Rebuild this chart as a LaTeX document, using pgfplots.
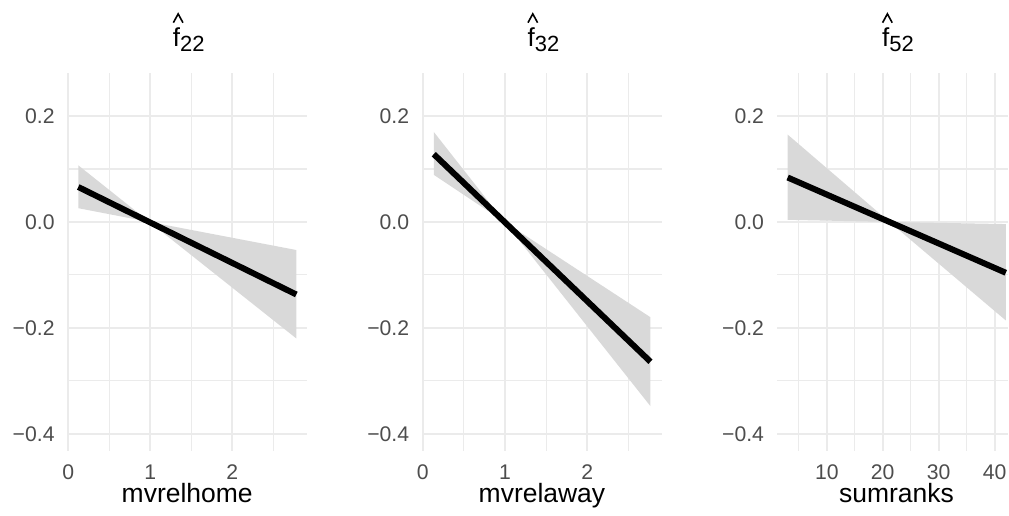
\documentclass[border=0pt]{standalone}
\usepackage{fontspec}
\setmainfont{Liberation Sans}
\usepackage{pgfplots}
\pgfplotsset{compat=1.18}
\definecolor{gridc}{HTML}{EBEBEB}
\definecolor{tickc}{HTML}{4D4D4D}
\definecolor{ribbon}{HTML}{D9D9D9}
\newcommand\titlef[1]{\fontsize{13}{15}\selectfont f\raisebox{-2.5pt}{\fontsize{11}{13}\selectfont #1}}
\pgfplotsset{
  panel/.style={
    scale only axis, height=189.5pt, anchor=south west,
    ymin=-0.433, ymax=0.282,
    ytick={-0.4,-0.2,0,0.2}, yticklabels={−0.4,−0.2,0.0,0.2},
    minor ytick={-0.3,-0.1,0.1},
    grid=both,
    major grid style={gridc, line width=1.1pt},
    minor grid style={gridc, line width=0.55pt},
    axis line style={draw=none},
    tick style={draw=none},
    tick label style={font=\fontsize{10.6}{12}\selectfont, text=tickc},
    yticklabel style={anchor=east, inner sep=0pt, xshift=-6.25pt},
    xticklabel style={anchor=base, inner sep=0pt, yshift=-14.15pt},
    label style={font=\fontsize{13.25}{15}\selectfont},
    xlabel style={at={(axis description cs:0.5,0)}, anchor=base, yshift=-25.65pt, inner sep=0pt},
  }
}
\begin{document}
\begin{tikzpicture}
\path (0,0) rectangle (504.5pt,258pt);
% panel 1
\begin{axis}[panel, at={(33.75pt,32.15pt)}, width=119.9pt,
  xmin=-0.01, xmax=2.91, xtick={0,1,2}, xticklabels={0,1,2}, minor xtick={0.5,1.5,2.5},
  xlabel={mvrelhome}]
\addplot[fill=ribbon, draw=none] coordinates {(0.122,0.107) (0.99,0) (2.78,-0.053) (2.78,-0.220) (0.99,0) (0.122,0.026)} -- cycle;
\addplot[black, line width=3pt] coordinates {(0.122,0.066) (2.78,-0.137)};
\end{axis}
% panel 2
\begin{axis}[panel, at={(211.2pt,32.15pt)}, width=120.15pt,
  xmin=-0.01, xmax=2.91, xtick={0,1,2}, xticklabels={0,1,2}, minor xtick={0.5,1.5,2.5},
  xlabel={mvrelaway}]
\addplot[fill=ribbon, draw=none] coordinates {(0.134,0.170) (0.995,0) (2.77,-0.180) (2.77,-0.348) (0.995,0) (0.134,0.089)} -- cycle;
\addplot[black, line width=3pt] coordinates {(0.134,0.128) (2.77,-0.264)};
\end{axis}
% panel 3
\begin{axis}[panel, at={(388.85pt,32.15pt)}, width=115.65pt,
  xmin=1.07, xmax=42.375, xtick={10,20,30,40}, xticklabels={10,20,30,40}, minor xtick={5,15,25,35},
  xlabel={sumranks}, xlabel style={at={(axis description cs:0.518,0)}}]
\addplot[fill=ribbon, draw=none] coordinates {(3,0.165) (21.2,0) (42,-0.004) (42,-0.186) (21.2,0) (3,0.004)} -- cycle;
\addplot[black, line width=3pt] coordinates {(3,0.084) (42,-0.096)};
\end{axis}
\node[anchor=base, inner sep=0pt] (t1) at (94.5pt,234.65pt) {\titlef{22}};
\node[anchor=base, inner sep=0pt] (t2) at (272pt,234.65pt) {\titlef{32}};
\node[anchor=base, inner sep=0pt] (t3) at (449.5pt,234.65pt) {\titlef{52}};
\foreach \t in {t1,t2,t3}{
  \draw[shift={(\t.base west)}, line width=0.8pt, line join=miter, line cap=butt]
    (0.4pt,12pt) -- (2.8pt,16.4pt) -- (5.2pt,12pt);
}
\end{tikzpicture}
\end{document}
